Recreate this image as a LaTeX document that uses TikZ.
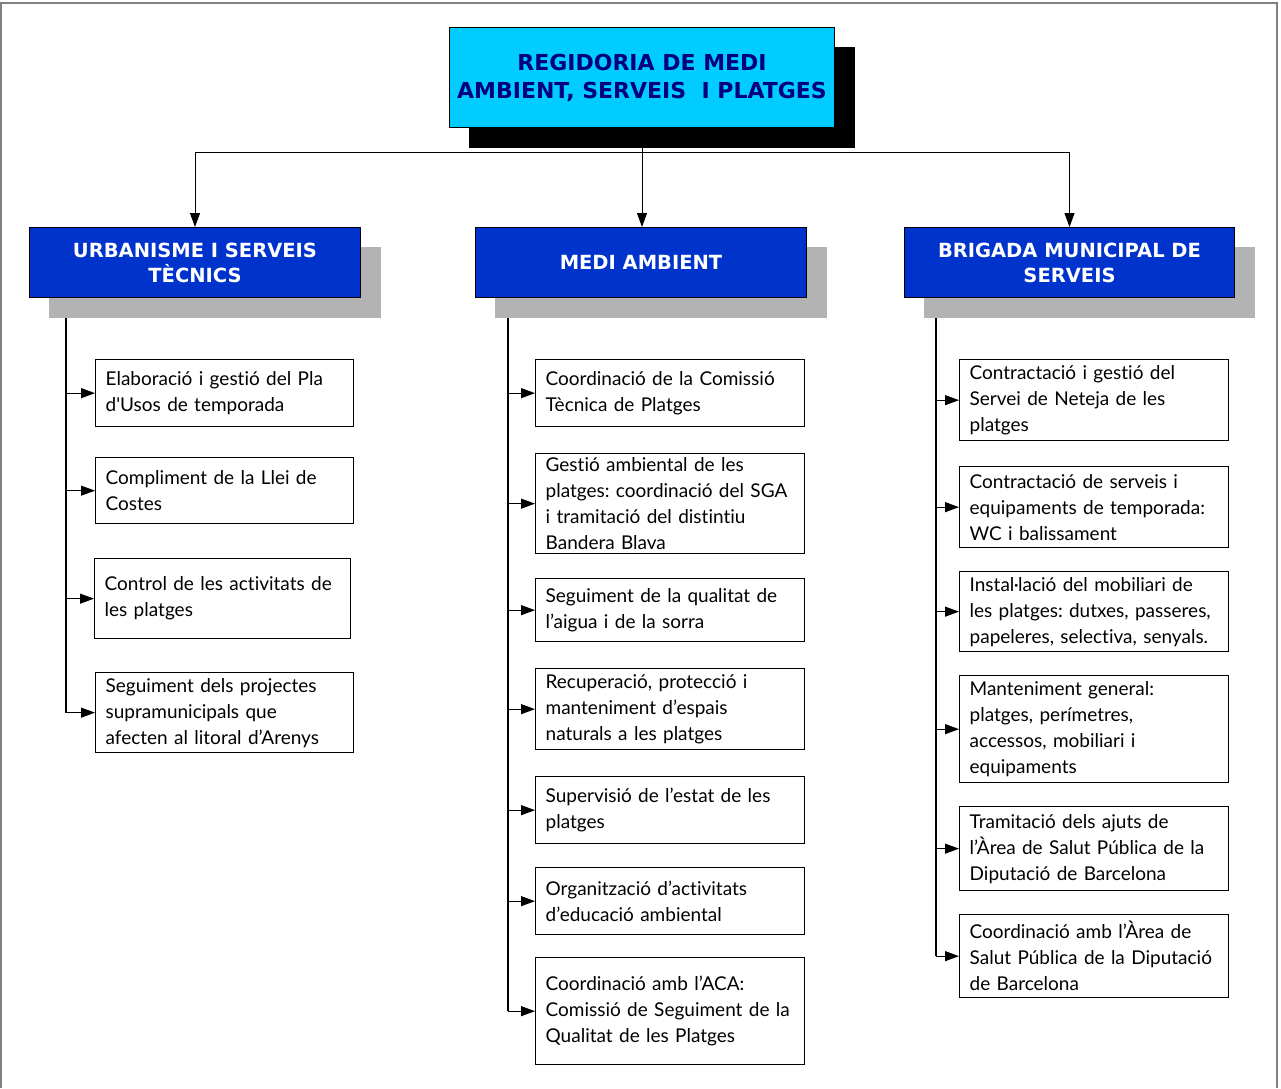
\documentclass[tikz,border=0pt]{standalone}
\usepackage{fontspec}
\setmainfont{Lato}[Ligatures={TeX,NoCommon}]
\newfontfamily\headfont{DejaVu Sans}
\usetikzlibrary{arrows.meta,calc,backgrounds}
\frenchspacing

\definecolor{titlecyan}{HTML}{00CCFF}
\definecolor{titlenavy}{HTML}{000080}
\definecolor{headblue}{HTML}{0033CC}
\definecolor{shadowgray}{HTML}{B3B3B3}
\definecolor{framegray}{HTML}{808080}

\tikzset{every picture/.style={line width=1pt},
  itembox/.style={draw, line width=1.3pt, anchor=north west, inner xsep=10pt, inner ysep=0pt,
    text width=#1, align=left, font=\fontsize{19}{26}\selectfont},
  headbox/.style={draw, fill=headblue, text=white, anchor=north west, minimum width=331pt,
    minimum height=70pt, inner sep=0pt, align=center, font=\headfont\bfseries\fontsize{19.5}{25}\selectfont},
  linkarrow/.style={-{Triangle[length=14pt,width=10pt]}},
  trunkline/.style={line width=1.8pt}
}

\begin{document}
\begin{tikzpicture}[x=1pt,y=1pt,yscale=-1,xscale=1]
	\useasboundingbox (0,0) rectangle (1281,1088);

	%Frame
	\draw[framegray, line width=1.5pt] (1,1088) -- (1,3) -- (1277,3) -- (1277,1088);

	%Title box
	\node[draw, fill=titlecyan, text=titlenavy, anchor=north west, minimum width=385pt, minimum height=100pt,
		inner sep=0pt, align=center, font=\headfont\bfseries\fontsize{22}{28}\selectfont]
		(regidoria) at (449,27) {REGIDORIA DE MEDI\\AMBIENT, SERVEIS\ \ I PLATGES};

	%Area boxes
	\node[headbox] (urbanisme) at (29,227) {URBANISME I SERVEIS\\TÈCNICS};
	\node[headbox] (medi) at (475,227) {MEDI AMBIENT};
	\node[headbox, minimum width=330pt] (brigada) at (904,227) {BRIGADA MUNICIPAL DE\\SERVEIS};

	%Shadows
	\begin{scope}[on background layer]
		\fill[black] ($(regidoria.north west)+(20,20)$) rectangle ($(regidoria.south east)+(20,20)$);
		\foreach \n in {urbanisme,medi,brigada}
			\fill[shadowgray] ($(\n.north west)+(20,20)$) rectangle ($(\n.south east)+(20,20)$);
	\end{scope}

	%Urbanisme tasks
	\node[itembox=238pt, minimum height=67pt] (u1) at (95,359) {Elaboració i gestió del Pla\\d\textquotesingle Usos de temporada};
	\node[itembox=238pt, minimum height=66pt] (u2) at (95,457) {Compliment de la Llei de\\Costes};
	\node[itembox=236pt, minimum height=80pt] (u3) at (94,558) {Control de les activitats de\\les platges};
	\node[itembox=238pt, minimum height=80pt] (u4) at (95,672) {Seguiment dels projectes\\supramunicipals que\\afecten al litoral d’Arenys};

	%Medi ambient tasks
	\node[itembox=249pt, minimum height=67pt] (m1) at (535,359) {Coordinació de la Comissió\\Tècnica de Platges};
	\node[itembox=249pt, minimum height=100pt] (m2) at (535,453) {Gestió ambiental de les\\platges: coordinació del SGA\\i tramitació del distintiu\\Bandera Blava};
	\node[itembox=249pt, minimum height=63pt] (m3) at (535,578) {Seguiment de la qualitat de\\l’aigua i de la sorra};
	\node[itembox=249pt, minimum height=81pt] (m4) at (535,668) {Recuperació, protecció i\\manteniment d’espais\\naturals a les platges};
	\node[itembox=249pt, minimum height=67pt] (m5) at (535,776) {Supervisió de l’estat de les\\platges};
	\node[itembox=249pt, minimum height=67pt] (m6) at (535,867) {Organització d’activitats\\d’educació ambiental};
	\node[itembox=249pt, minimum height=107pt] (m7) at (535,957) {Coordinació amb l’ACA:\\Comissió de Seguiment de la\\Qualitat de les Platges};

	%Brigada tasks
	\node[itembox=249pt, minimum height=81pt] (b1) at (959,359) {Contractació i gestió del\\Servei de Neteja de les\\platges};
	\node[itembox=249pt, minimum height=81pt] (b2) at (959,466) {Contractació de serveis i\\equipaments de temporada:\\WC i balissament};
	\node[itembox=249pt, minimum height=80pt] (b3) at (959,571) {Instal·lació del mobiliari de\\les platges: dutxes, passeres,\\papeleres, selectiva, senyals.};
	\node[itembox=249pt, minimum height=107pt] (b4) at (959,675) {Manteniment general:\\platges, perímetres,\\accessos, mobiliari i\\equipaments};
	\node[itembox=249pt, minimum height=84pt] (b5) at (959,806) {Tramitació dels ajuts de\\l’Àrea de Salut Pública de la\\Diputació de Barcelona};
	\node[itembox=249pt, minimum height=83pt] (b6) at (959,914) {Coordinació amb l’Àrea de\\Salut Pública de la Diputació\\de Barcelona};

	%Connectors from the title
	\coordinate (bus) at (642,152);
	\draw (regidoria.south) -- (bus);
	\draw (urbanisme.north |- bus) -- (brigada.north |- bus);
	\draw[linkarrow] (urbanisme.north |- bus) -- (urbanisme.north);
	\draw[linkarrow] (bus) -- (bus |- medi.north);
	\draw[linkarrow] (brigada.north |- bus) -- (brigada.north);

	%Trunks and task arrows
	\coordinate (ut) at (66,318);
	\coordinate (mt) at (508,318);
	\coordinate (bt) at (936,318);
	\draw[trunkline] (ut) -- (ut |- u4.west);
	\draw[trunkline] (mt) -- (mt |- m7.west);
	\draw[trunkline] (bt) -- (bt |- b6.west);
	\foreach \n in {u1,u2,u3,u4}
		\draw[linkarrow] (ut |- \n.west) -- (\n.west);
	\foreach \n in {m1,m2,m3,m4,m5,m6,m7}
		\draw[linkarrow] (mt |- \n.west) -- (\n.west);
	\foreach \n in {b1,b2,b3,b4,b5,b6}
		\draw[linkarrow] (bt |- \n.west) -- (\n.west);

\end{tikzpicture}
\end{document}
